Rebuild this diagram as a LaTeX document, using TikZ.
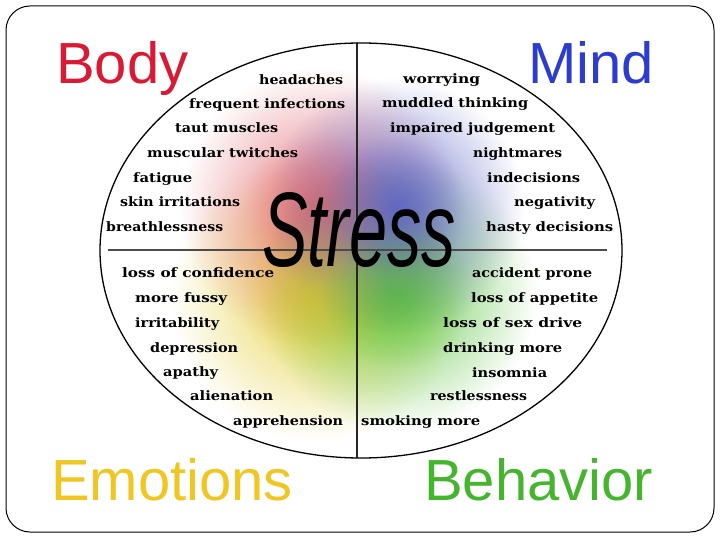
\documentclass[tikz,border=0pt]{standalone}
\usepackage{fontspec}
\usepackage{graphicx}
\usetikzlibrary{fadings}
\setmainfont{DejaVu Serif}
\newfontfamily\labelfont{Liberation Sans}
\definecolor{bodyred}{HTML}{D91A35}
\definecolor{mindblue}{HTML}{2C3CCF}
\definecolor{emoyellow}{HTML}{F0C622}
\definecolor{behgreen}{HTML}{45B52E}
\definecolor{blobred}{HTML}{E2646E}
\definecolor{blobblue}{HTML}{5A62C6}
\definecolor{blobgreen}{HTML}{56C236}
\definecolor{blobyellow}{HTML}{E4CC2C}
\tikzfading[name=blobfade, inner color=transparent!0, outer color=transparent!100]
\newlength\fwlen
\newcommand\fitto[2]{\settowidth{\fwlen}{#2}\pgfmathsetmacro\fwfac{#1/\fwlen}\scalebox{\fwfac}[1]{#2}}
\tikzset{
  item/.style={anchor=base west, inner sep=0pt, font=\bfseries\fontsize{13}{15}\selectfont, text=black},
  biglabel/.style={anchor=base west, inner sep=0pt, font=\labelfont\fontsize{58}{58}\selectfont},
  blob/.style={path fading=blobfade, fill opacity=0.85},
  core/.style={path fading=blobfade, fill opacity=0.45},
}
\begin{document}
\begin{tikzpicture}[x=1pt,y=-1pt]
\useasboundingbox (0,0) rectangle (720,540);
\fill[white] (0,0) rectangle (720,540);
% frame
\draw[line width=1pt, rounded corners=24pt] (6,6) rectangle (714,532);
% colour blobs
\begin{scope}
\clip (361,250.5) ellipse [x radius=261, y radius=207.5];
\fill[blobyellow, blob] (316,296) circle (145);
\fill[blobred, blob] (320,208) circle (140);
\fill[blobgreen, blob] (398,294) circle (138);
\fill[blobblue, blob] (396,206) circle (128);
\fill[blobyellow, core] (316,296) circle (75);
\fill[blobred, core] (320,208) circle (75);
\fill[blobgreen, core] (398,294) circle (75);
\fill[blobblue, core] (396,206) circle (70);
\end{scope}
% cross lines
\coordinate (vt) at (357,43);
\coordinate (vb) at (357,458);
\coordinate (hl) at (108,250);
\coordinate (hr) at (607,250);
\draw[line width=1.1pt, black!85] (vt) -- (vb);
\draw[line width=1.2pt, black!70] (hl) -- (hr);
% ellipse
\draw[line width=1.3pt] (361,250.5) ellipse [x radius=261, y radius=207.5];
% big labels
\node[biglabel, text=bodyred] (body) at (56,84) {Body};
\node[biglabel, text=mindblue] (mind) at (528,84) {Mind};
\node[biglabel, text=emoyellow] (emo) at (51,500) {Emotions};
\node[biglabel, text=behgreen] (beh) at (424,500) {Behavior};
% body
\node[item] (b1) at (259,85) {\fitto{84}{headaches}};
\node[item] (b2) at (189,109) {\fitto{156}{frequent infections}};
\node[item] (b3) at (175,133) {\fitto{103}{taut muscles}};
\node[item] (b4) at (147,158) {\fitto{151}{muscular twitches}};
\node[item] (b5) at (133,183) {\fitto{59}{fatigue}};
\node[item] (b6) at (120,207) {\fitto{120}{skin irritations}};
\node[item] (b7) at (106,232) {\fitto{117}{breathlessness}};
% mind
\node[item] (m1) at (403,84) {\fitto{77}{worrying}};
\node[item] (m2) at (382,108) {\fitto{146}{muddled thinking}};
\node[item] (m3) at (390,133) {\fitto{165}{impaired judgement}};
\node[item] (m4) at (473,158) {\fitto{89}{nightmares}};
\node[item] (m5) at (487,183) {\fitto{93}{indecisions}};
\node[item] (m6) at (514,207) {\fitto{81}{negativity}};
\node[item] (m7) at (486,232) {\fitto{127}{hasty decisions}};
% emotions
\node[item] (e1) at (122,277) {\fitto{152}{loss of confidence}};
\node[item] (e2) at (135,302) {\fitto{92}{more fussy}};
\node[item] (e3) at (135,327) {\fitto{84}{irritability}};
\node[item] (e4) at (150,352) {\fitto{88}{depression}};
\node[item] (e5) at (163,376) {\fitto{55}{apathy}};
\node[item] (e6) at (190,400) {\fitto{83}{alienation}};
\node[item] (e7) at (233,425) {\fitto{110}{apprehension}};
% behavior
\node[item] (h1) at (472,277) {\fitto{120}{accident prone}};
\node[item] (h2) at (471,302) {\fitto{127}{loss of appetite}};
\node[item] (h3) at (443,327) {\fitto{139}{loss of sex drive}};
\node[item] (h4) at (443,352) {\fitto{119}{drinking more}};
\node[item] (h5) at (472,377) {\fitto{75}{insomnia}};
\node[item] (h6) at (430,400) {\fitto{97}{restlessness}};
\node[item] (h7) at (361,425) {\fitto{119}{smoking more}};
% Stress
\node[anchor=base west, inner sep=0pt, font=\labelfont\itshape\fontsize{106}{106}\selectfont] (stress) at (262,266) {\fitto{194}{Stress}};
\end{tikzpicture}
\end{document}
